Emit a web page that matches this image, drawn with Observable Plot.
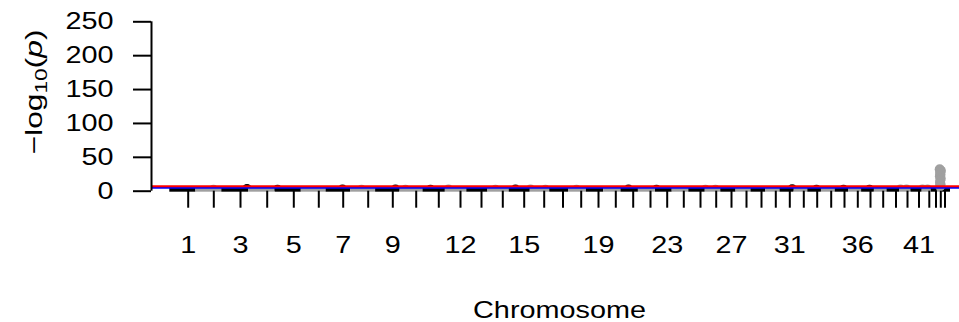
<!DOCTYPE html>
<html><head><meta charset="utf-8">
<script src="https://cdn.jsdelivr.net/npm/d3@7"></script>
<script src="https://cdn.jsdelivr.net/npm/@observablehq/plot@0.6"></script>
<style>html,body{margin:0;padding:0;background:#fff;overflow:hidden}</style>
</head><body><div id="chart"></div>
<script>
// Chromosomes and their cumulative genomic extent (Mb, plotted units)
const chromosomes = [1,2,3,4,5,6,7,8,9,10,11,12,13,14,15,16,17,18,19,20,21,22,23,24,25,26,27,28,29,30,31,32,33,34,35,36,37,38,39,40,41,42,43,44,45];
const chrStart = [18.3,44.4,70.3,97,123.7,149.8,174.6,199.2,224.1,248.3,271.5,293.8,315.3,336.4,357.7,378.7,398.3,417,434.9,452.2,469.5,486.9,504,520.7,537.3,553.7,569.3,584.5,599.5,614.3,628.5,642.5,656.3,669.9,683.7,697,710.1,722.8,735.5,748,759.5,770.6,779.8,785.9,790.6];
const chrEnd   = [44.4,70.3,97,123.7,149.8,174.6,199.2,224.1,248.3,271.5,293.8,315.3,336.4,357.7,378.7,398.3,417,434.9,452.2,469.5,486.9,504,520.7,537.3,553.7,569.3,584.5,599.5,614.3,628.5,642.5,656.3,669.9,683.7,697,710.1,722.8,735.5,748,759.5,770.6,779.8,785.9,790.6,799];
const chrMid   = [36.7,62.3,89,115.7,142.3,167.3,191.7,216.7,241.3,264.7,287.3,309,330,351.3,372.7,392.7,411.5,429.7,447,464.3,481.7,499,515.7,532.3,549,564.7,580,595,610,624.3,638.3,652.3,665.7,679.7,693,706.3,719,731.7,744.5,756,767.5,777.8,784.5,789.3,793.5];
const tickLabels = ["1","","3","","5","","7","","9","","","12","","","15","","","","19","","","","23","","","","27","","","","31","","","","","36","","","","","41","","","",""];
const yTicks = [0,50,100,150,200,250];

// Bulk of SNPs (-log10 p) per chromosome
const bulkTop = [4,4,4,4,4,4,4,4,4,4,4,4,4,4,4,4,4,4,4,4,4,4,4,4,4,4,4,4,4,4,4,4,4,4,4,4,4,4,4,4,4,4,4,4,4];

// Scattered modest SNPs peeking above the bulk
const bumpPos  = [95.5,62,126,191,210,244,254,279,297,344,364,379,394,425,477,505,554,564,640.7,665,692,718,749,755,771,776];
const bumpChr  = [3,2,5,7,8,9,10,11,12,14,15,16,16,18,21,23,26,26,31,33,35,37,40,40,42,42];
const bumpLogP = [3.2,2.2,2.0,2.4,2.0,2.6,2.2,2.2,2.4,2.2,2.6,2.4,2.2,2.0,2.4,2.0,2.2,2.0,3.0,2.2,2.2,2.0,2.6,2.6,2.6,2.6];

// Strong association peak on chromosome 44
const peakPos  = [788.2,789.4,788.6,789.0,788.4,789.2,788.8,788.5,789.1,788.7];
const peakLogP = [32.5,30.1,27.4,24.6,21.9,18.8,15.7,12.6,9.8,7.2];
const peakChr = 44;

const suggestiveLine = 5;     // -log10(1e-5)
const genomewideLine = 7.3;   // -log10(5e-8)

const colorOf = c => (c % 2 === 1 ? "#000000" : "#a0a0a0");
const chrTable = chromosomes.map((c, i) => ({chr: c, start: chrStart[i], end: chrEnd[i], top: bulkTop[i]}));
const bumps = bumpPos.map((p, i) => ({pos: p, chr: bumpChr[i], logp: bumpLogP[i]}));
const peak = peakPos.map((p, i) => ({pos: p, chr: peakChr, logp: peakLogP[i]}));
const labelOf = new Map(chrMid.map((m, i) => [m, tickLabels[i]]));

const plot = Plot.plot({
  width: 959, height: 322,
  marginLeft: 151, marginRight: 0, marginTop: 21.3, marginBottom: 131.3,
  style: {fontFamily: "'Liberation Sans', Arial, Helvetica, sans-serif", fontSize: "24px", background: "#fff", color: "#000"},
  x: {domain: [0, 808], label: null},
  y: {domain: [0, 250], label: null},
  color: {type: "identity"},
  marks: [
    Plot.dot(bumps, {x: "pos", y: "logp", r: 5, fill: d => colorOf(d.chr), clip: true}),
    Plot.rect(chrTable, {x1: "start", x2: "end", y1: 0, y2: "top", fill: d => colorOf(d.chr), insetBottom: -1}),
    Plot.dot(peak, {x: "pos", y: "logp", r: 5, fill: d => colorOf(d.chr)}),
    Plot.ruleY([suggestiveLine], {stroke: "#0000ff", strokeWidth: 2}),
    Plot.ruleY([genomewideLine], {stroke: "#ff0000", strokeWidth: 2}),
    Plot.ruleX([0], {y1: 0, y2: 250, stroke: "#000", strokeWidth: 2}),
    Plot.axisY({ticks: yTicks, tickSize: 18, tickPadding: 20, fontSize: 24, strokeWidth: 2, label: null}),
    Plot.axisX({ticks: chrMid, tickSize: 17, tickPadding: 28, fontSize: 24, strokeWidth: 2, label: null,
                tickFormat: d => labelOf.get(d) ?? ""}),
    Plot.text(["Chromosome"], {frameAnchor: "bottom", dy: 119, dx: 4, fontSize: 24, lineAnchor: "middle"})
  ]
});

document.getElementById("chart").appendChild(plot);

// y-axis title with subscript and italic p
const svg = d3.select(plot);
const t = svg.append("text")
  .attr("class", "ylab")
  .attr("transform", "translate(41.5,92) rotate(-90)")
  .attr("text-anchor", "middle")
  .attr("font-size", 24)
  .attr("fill", "#000");
t.append("tspan").text("\u2212log");
t.append("tspan").attr("font-size", 17).attr("dy", 5).text("10");
t.append("tspan").attr("dy", -5).text("(");
t.append("tspan").attr("font-style", "italic").text("p");
t.append("tspan").text(")");
t.attr("textLength", 125).attr("lengthAdjust", "spacingAndGlyphs");

// widen glyphs like the reference rendering
plot.querySelectorAll("text").forEach(el => {
  if (el.classList.contains("ylab")) return;
  const len = el.getComputedTextLength();
  if (len > 0) {
    el.setAttribute("textLength", (len * 1.2).toFixed(1));
    el.setAttribute("lengthAdjust", "spacingAndGlyphs");
  }
});
</script>
</body></html>
